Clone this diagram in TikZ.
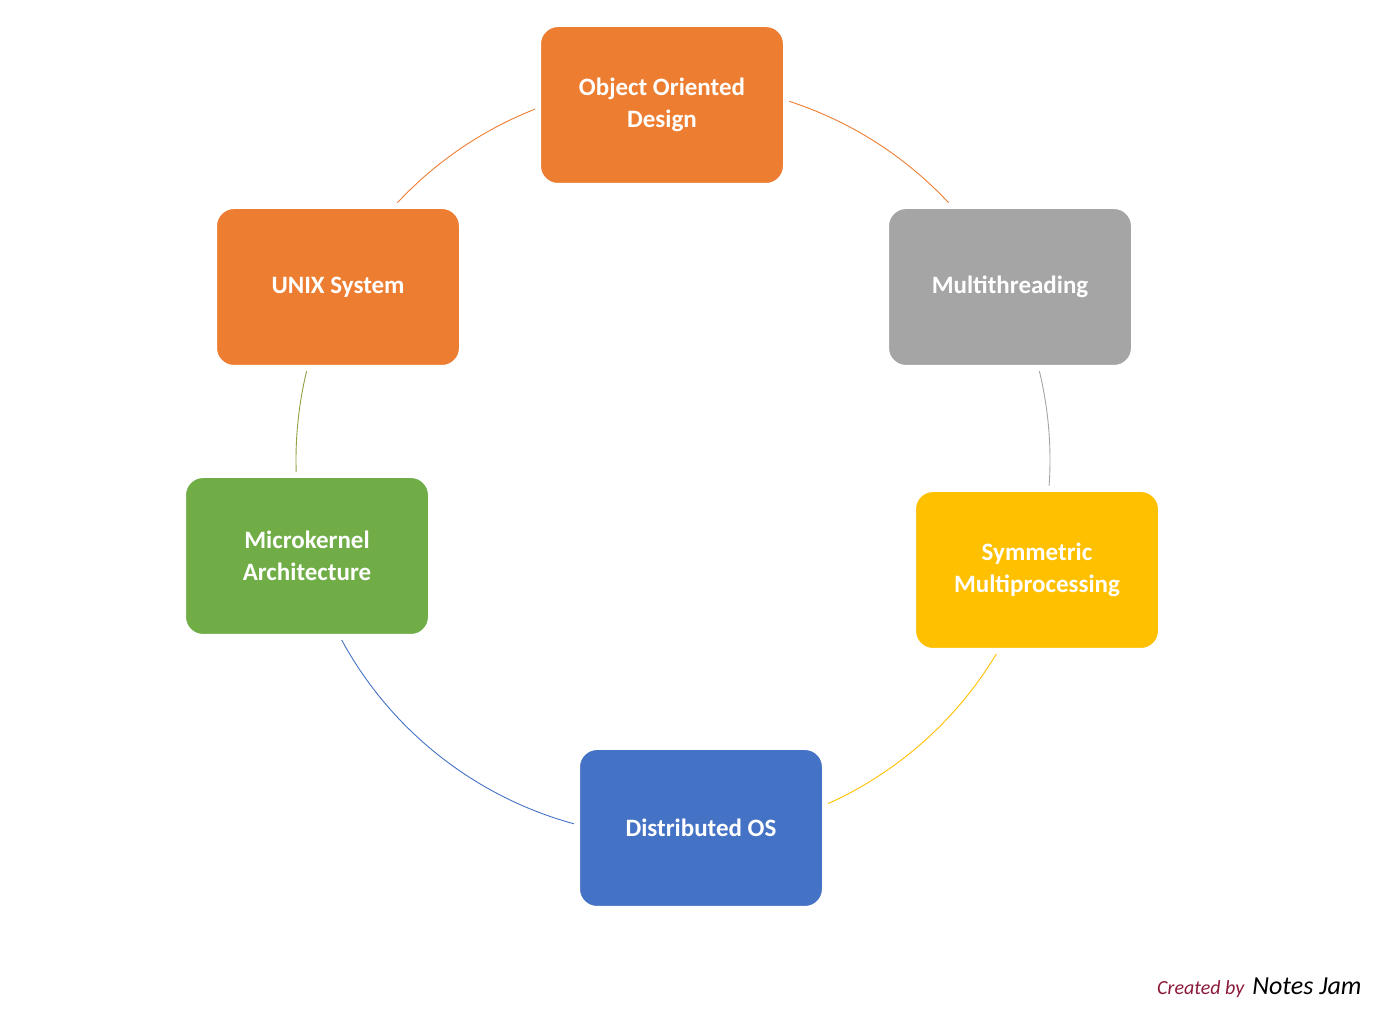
\documentclass[tikz,border=0pt]{standalone}
\usepackage{fontspec}
\setmainfont{Carlito}
\begin{document}
\begin{tikzpicture}[x=1pt,y=1pt,
  box/.style={draw=white,line width=6pt,rounded corners=20pt,minimum width=248pt,minimum height=162pt,text=white,font=\bfseries\fontsize{25}{32}\selectfont,align=center},
  ring/.style={line width=0.9pt}]
\definecolor{oor}{HTML}{ED7D31}\definecolor{ogr}{HTML}{A5A5A5}
\definecolor{oye}{HTML}{FFC000}\definecolor{obl}{HTML}{4472C4}
\definecolor{ogn}{HTML}{70AD47}\definecolor{dred}{HTML}{8B1A3A}
\useasboundingbox (0,0) rectangle (1385,1018);
\coordinate (c) at (673,558);
\draw[ring,oor] (c) ++(92:377) arc (92:27:377);
\draw[ring,ogr] (c) ++(27:377) arc (27:-17:377);
\draw[ring,oye] (c) ++(-17:377) arc (-17:-86:377);
\draw[ring,obl] (c) ++(-86:377) arc (-86:-165:377);
\draw[ring,ogn!70!oor] (c) ++(195:377) arc (195:153:377);
\draw[ring,oor] (c) ++(153:377) arc (153:92:377);
\node[box,fill=oor] (ood) at (662,913) {Object Oriented\\Design};
\node[box,fill=ogr] (mt) at (1010,731) {Multithreading};
\node[box,fill=oye] (smp) at (1037,448) {Symmetric\\Multiprocessing};
\node[box,fill=obl] (dos) at (701,190) {Distributed OS};
\node[box,fill=ogn] (mk) at (307,462) {Microkernel\\Architecture};
\node[box,fill=oor] (unix) at (338,731) {UNIX System};
\node[anchor=east,font=\itshape\fontsize{20}{24}\selectfont] (cr) at (1365,30) {\textcolor{dred}{Created by}\hspace{8pt}\fontsize{26}{30}\selectfont Notes Jam};
\end{tikzpicture}
\end{document}
